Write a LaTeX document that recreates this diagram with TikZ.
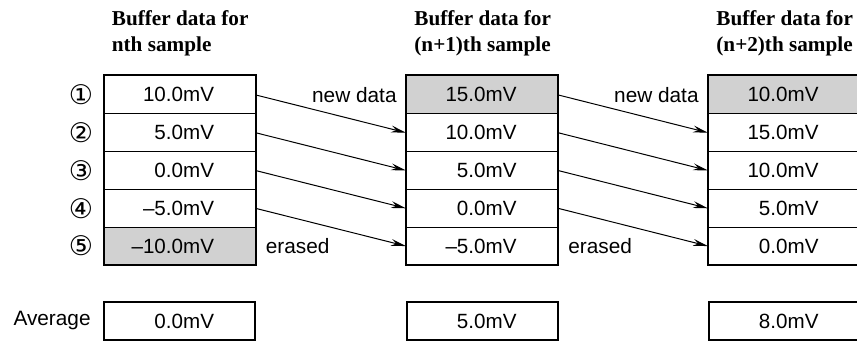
\documentclass[tikz,border=0pt]{standalone}
\usepackage{fontspec}
\setmainfont{Liberation Sans}
\newfontfamily\headfont{Liberation Serif}
\newfontfamily\circfont{DejaVu Sans}
\usetikzlibrary{arrows.meta,positioning}
\definecolor{bufgray}{gray}{0.82}

\begin{document}
\begin{tikzpicture}[x=0.5pt,y=-0.5pt,
  cell/.style={draw,line width=0.5pt,minimum width=75.5pt,minimum height=18.9pt,
    inner sep=0pt,font=\fontsize{10.3}{12}\selectfont},
  frame/.style={line width=1pt},
  head/.style={inner sep=0pt,align=left,font=\headfont\bfseries\fontsize{10.6}{13}\selectfont},
  side/.style={inner sep=0pt,font=\fontsize{10.4}{12}\selectfont},
  num/.style={inner sep=0pt,font=\circfont\fontsize{13.5}{14}\selectfont},
  shiftarrow/.style={line width=0.5pt,-{Stealth[length=7.5pt,width=3.4pt,inset=2.5pt]}}]

  \useasboundingbox (0,0) rectangle (857,341);

  % -------- INPUT --------
  \def\Top{76}          % top edge of the buffers
  \def\Rh{37.8}         % row height
  \def\Avg{321}         % centre of the average row

  % Buffer drawing function: name, x centre, values, grey row
  \newcommand{\drawbuffer}[4]{%
      \foreach \v [count=\r] in {#3} {
          \ifnum\r=#4 \def\cellfill{bufgray}\else\def\cellfill{white}\fi
          \node[cell,fill=\cellfill] (#1r\r) at (#2,{\Top+\Rh*(\r-0.5)})
              {\makebox[34.5pt][r]{\v}};
      }%
      \draw[frame] (#1r1.north west) rectangle (#1r5.south east);
  }

  % Draw all buffers
  \drawbuffer{a}{179.5}{10.0mV,5.0mV,0.0mV,–5.0mV,–10.0mV}{5}
  \drawbuffer{b}{482}{15.0mV,10.0mV,5.0mV,0.0mV,–5.0mV}{1}
  \drawbuffer{c}{784}{10.0mV,15.0mV,10.0mV,5.0mV,0.0mV}{1}

  % Average row
  \foreach \col/\x/\val in {a/179.5/0.0mV,b/482/5.0mV,c/784/8.0mV}
      \node[cell,frame] (\col avg) at (\x,\Avg) {\makebox[34.5pt][r]{\val}};
  \node[side,left=6pt of aavg] (avglabel) {Average};

  % Headings
  \node[head,above right=9.5pt and 4pt of ar1.north west] (ahead) {Buffer data for\\nth sample};
  \node[head,above right=9.5pt and 4pt of br1.north west] (bhead) {Buffer data for\\(n+1)th sample};
  \node[head,above right=9.5pt and 4pt of cr1.north west] (chead) {Buffer data for\\(n+2)th sample};

  % Row numbers
  \foreach \n [count=\r] in {①,②,③,④,⑤}
      \node[num,left=5pt of ar\r] (num\r) {\n};

  % ---------- Shift arrows ----------
  \foreach \r [evaluate=\r as \s using int(\r+1)] in {1,...,4} {
      \draw[shiftarrow] (ar\r.east) -- (br\s.west);
      \draw[shiftarrow] (br\r.east) -- (cr\s.west);
  }

  % New and erased values
  \node[side,left=4.5pt of br1] (newb) {new data};
  \node[side,left=4.5pt of cr1] (newc) {new data};
  \node[side,right=5pt of ar5] (erasa) {erased};
  \node[side,right=5pt of br5] (erasb) {erased};

\end{tikzpicture}
\end{document}
